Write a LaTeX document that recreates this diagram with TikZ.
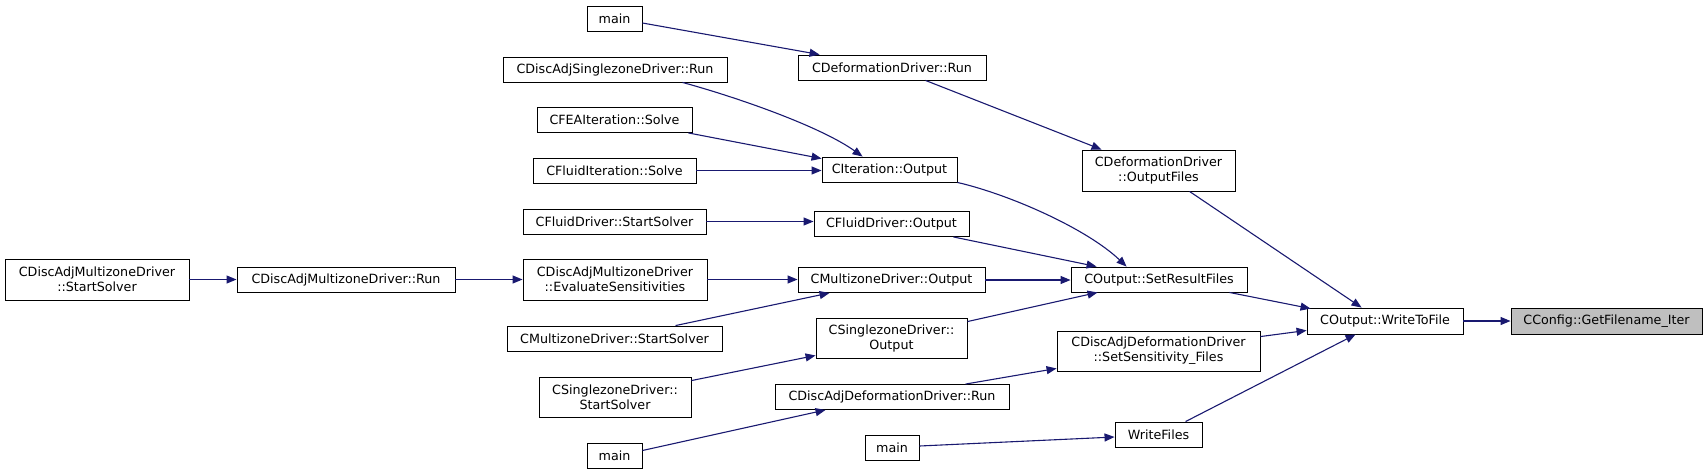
\documentclass[tikz,border=0pt]{standalone}
\usepackage{fontspec}
\newfontfamily\dv{DejaVu Sans}
\usetikzlibrary{arrows.meta,calc}
\definecolor{edgeblue}{RGB}{25,25,112}
\definecolor{hilite}{RGB}{191,191,191}
\tikzset{
  box/.style={draw=black, line width=0.9pt, fill=white, inner sep=0pt, align=center,
    font={\dv\fontsize{12.7}{15}\selectfont}, minimum height=25pt},
  tall/.style={minimum height=41pt},
  link/.style={draw=edgeblue, line width=1.1pt, -{Triangle[length=10pt,width=8pt]}}
}
\begin{document}
\begin{tikzpicture}[x=1pt,y=-1pt]
\useasboundingbox (0,0) rectangle (1708,475);
% column 1
\node[box, minimum width=184pt, tall] (damss) at (97,279.5) {CDiscAdjMultizoneDriver\\::StartSolver};
% column 2
\node[box, minimum width=218pt] (damrun) at (346,279.5) {CDiscAdjMultizoneDriver::Run};
% column 3
\node[box, minimum width=55pt] (mainA) at (614.5,18.5) {main};
\node[box, minimum width=224pt] (cdsr) at (615,69.5) {CDiscAdjSinglezoneDriver::Run};
\node[box, minimum width=155pt] (cfea) at (614.5,120) {CFEAIteration::Solve};
\node[box, minimum width=163pt] (cfis) at (614.5,170.5) {CFluidIteration::Solve};
\node[box, minimum width=183pt] (cfdss) at (614.5,221.5) {CFluidDriver::StartSolver};
\node[box, minimum width=184pt, tall] (evals) at (615,279.5) {CDiscAdjMultizoneDriver\\::EvaluateSensitivities};
\node[box, minimum width=215pt] (cmzss) at (614.5,338.5) {CMultizoneDriver::StartSolver};
\node[box, minimum width=152pt, minimum height=40pt] (cszss) at (615,397) {CSinglezoneDriver::\\StartSolver};
\node[box, minimum width=55pt] (mainB) at (614.5,455.5) {main};
% column 4
\node[box, minimum width=188pt] (cdr) at (892,67.5) {CDeformationDriver::Run};
\node[box, minimum width=135pt] (cito) at (889.5,169.5) {CIteration::Output};
\node[box, minimum width=155pt] (cfdo) at (891.5,224) {CFluidDriver::Output};
\node[box, minimum width=187pt] (cmzo) at (891.5,280) {CMultizoneDriver::Output};
\node[box, minimum width=151pt, minimum height=40pt] (czso) at (891.5,338) {CSinglezoneDriver::\\Output};
\node[box, minimum width=234pt] (cdadr) at (892,397) {CDiscAdjDeformationDriver::Run};
\node[box, minimum width=54pt] (mainC) at (892,448) {main};
% column 5
\node[box, minimum width=153pt, tall] (cdof) at (1158.5,170.5) {CDeformationDriver\\::OutputFiles};
\node[box, minimum width=176pt] (srf) at (1159,279.5) {COutput::SetResultFiles};
\node[box, minimum width=203pt, minimum height=40pt] (sens) at (1158.5,351) {CDiscAdjDeformationDriver\\::SetSensitivity\_Files};
\node[box, minimum width=87pt] (wf) at (1158.5,434.5) {WriteFiles};
% column 6
\node[box, minimum width=156pt, minimum height=26pt] (wtf) at (1385,321) {COutput::WriteToFile};
% column 7
\node[box, fill=hilite, minimum width=191pt, minimum height=26pt] (cfg) at (1606.5,321) {CConfig::GetFilename\_Iter};
% edges
\draw[link] ([yshift=-4.5pt]mainA.east) -- ([xshift=22pt]cdr.north west);
\draw[link] ([xshift=128pt]cdr.south west) -- ([xshift=20pt]cdof.north west);
\draw[link] ([xshift=180pt]cdsr.south west) .. controls +(55,15) and +(-42,-30) .. ([xshift=41pt]cito.north west);
\draw[link] ([xshift=-4pt]cfea.south east) -- ([yshift=-2pt]cito.north west);
\draw[link] (cfis.east) -- (cfis.east -| cito.west);
\draw[link] (cito.south east) .. controls +(52,12) and +(-40,-38) .. ([xshift=56pt]srf.north west);
\draw[link] (cfdss.east) -- (cfdss.east -| cfdo.west);
\draw[link] ([xshift=-16pt]cfdo.south east) -- ([xshift=26pt]srf.north west);
\draw[link] (damss.east) -- (damrun.west);
\draw[link] (damrun.east) -- (evals.west);
\draw[link] (evals.east) -- (evals.east -| cmzo.west);
\draw[link] ([xshift=169pt]cmzss.north west) -- ([xshift=32pt]cmzo.south west);
\draw[link] (cmzo.east) -- (cmzo.east -| srf.west);
\draw[link] ([yshift=-4pt]cszss.north east) -- ([yshift=3pt]czso.south west);
\draw[link] ([yshift=-4pt]czso.north east) -- ([xshift=27pt]srf.south west);
\draw[link] ([xshift=-18pt]srf.south east) -- ([xshift=4pt,yshift=-1pt]wtf.north west);
\draw[link] ([xshift=108pt]cdof.south west) -- ([xshift=55pt]wtf.north west);
\draw[link] ([yshift=-6pt]sens.north east) -- ([yshift=4pt]wtf.south west);
\draw[link] ([xshift=191pt]cdadr.north west) -- ([yshift=3pt]sens.south west);
\draw[link] ([yshift=5pt]mainB.east) -- ([xshift=51pt]cdadr.south west);
\draw[link] ([yshift=2pt]mainC.east) -- ([yshift=-2.5pt]wf.west);
\draw[link] ([xshift=71pt]wf.north west) -- ([xshift=49pt]wtf.south west);
\draw[link] (wtf.east) -- (cfg.west);
\end{tikzpicture}
\end{document}
